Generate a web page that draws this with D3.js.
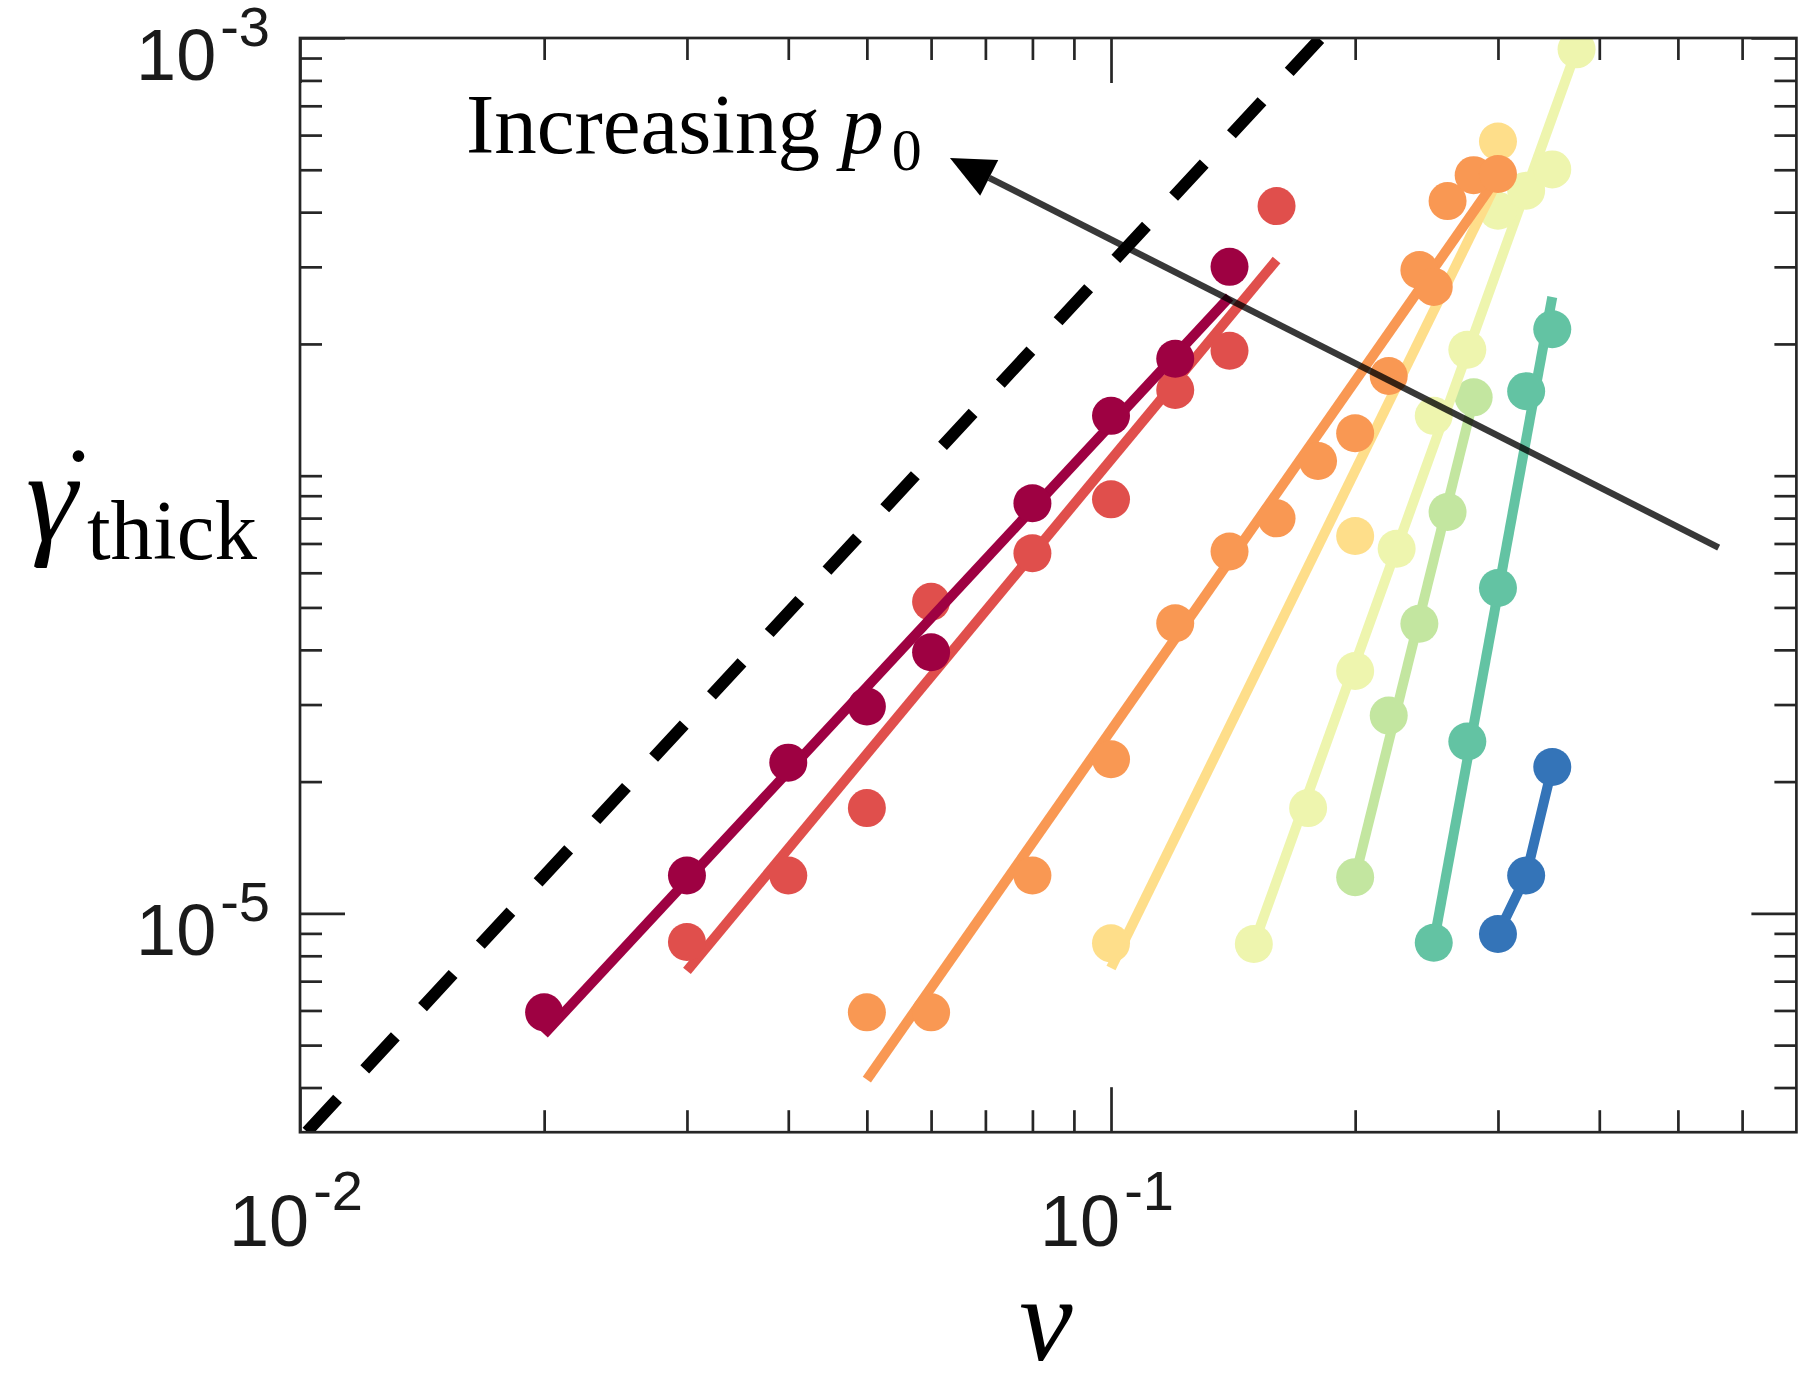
<!DOCTYPE html>
<html>
<head>
<meta charset="utf-8">
<script src="https://cdn.jsdelivr.net/npm/d3@7"></script>
<style>
  body { margin: 0; background: #fff; }
  svg { display: block; }
</style>
</head>
<body>
<div class="shear_plot"></div>
<script>
// colours, one per p0 curve (low p0 = dark red ... high p0 = blue)
const colors = ['#9e0142', '#e04f4c', '#f99853', '#fede8a', '#eef5ae', '#c3e6a0', '#63c3a3', '#3474b8'];

// measured points (v, gamma_dot_thick)
const v1 = [0.02, 0.03, 0.04, 0.05, 0.06, 0.08, 0.1, 0.12, 0.14];
const g1 = [5.94e-6, 1.22e-5, 2.21e-5, 2.97e-5, 3.95e-5, 8.65e-5, 1.37e-4, 1.85e-4, 3.0e-4];
const v2 = [0.03, 0.04, 0.05, 0.06, 0.08, 0.1, 0.12, 0.14, 0.16];
const g2 = [8.6e-6, 1.22e-5, 1.74e-5, 5.15e-5, 6.65e-5, 8.83e-5, 1.57e-4, 1.93e-4, 4.13e-4];
const v3 = [0.05, 0.06, 0.08, 0.1, 0.12, 0.14, 0.16, 0.18, 0.2, 0.22, 0.24, 0.25, 0.26, 0.28, 0.3];
const g3 = [5.94e-6, 5.94e-6, 1.22e-5, 2.25e-5, 4.6e-5, 6.71e-5, 7.99e-5, 1.08e-4, 1.25e-4, 1.69e-4, 2.95e-4, 2.7e-4, 4.24e-4, 4.86e-4, 4.89e-4];
const v4 = [0.1, 0.2, 0.3];
const g4 = [8.54e-6, 7.28e-5, 5.8e-4];
const v5 = [0.15, 0.175, 0.2, 0.225, 0.25, 0.275, 0.3, 0.325, 0.35, 0.375];
const g5 = [8.51e-6, 1.74e-5, 3.58e-5, 6.81e-5, 1.37e-4, 1.94e-4, 4.03e-4, 4.48e-4, 5.01e-4, 9.42e-4];
const v6 = [0.2, 0.22, 0.24, 0.26, 0.28];
const g6 = [1.21e-5, 2.83e-5, 4.59e-5, 8.26e-5, 1.51e-4];
const v7 = [0.25, 0.275, 0.3, 0.325, 0.35];
const g7 = [8.57e-6, 2.47e-5, 5.54e-5, 1.56e-4, 2.16e-4];
const v8 = [0.3, 0.325, 0.35];
const g8 = [8.97e-6, 1.22e-5, 2.16e-5];

// power-law fit lines, [v, gamma] vertices
const fit1 = [[0.02, 5.3e-6], [0.14, 2.56e-4]];
const fit2 = [[0.03, 7.39e-6], [0.16, 3.11e-4]];
const fit3 = [[0.05, 4.17e-6], [0.3, 4.82e-4]];
const fit4 = [[0.1, 7.5e-6], [0.3, 4.74e-4]];
const fit5 = [[0.15, 8.5e-6], [0.375, 9.4e-4]];
const fit6 = [[0.2, 1.21e-5], [0.28, 1.5e-4]];
const fit7 = [[0.25, 8.57e-6], [0.35, 2.56e-4]];
const fit8 = [[0.3, 8.97e-6], [0.325, 1.22e-5], [0.35, 2.16e-5]];

// slope-2 reference line and the "increasing p0" arrow (tail -> tip)
const refLine = [[0.0102, 3.17e-6], [0.1813, 1.0e-3]];
const arrowTail = [0.5614, 6.85e-5];
const arrowTip = [0.0633, 5.32e-4];

// axis ticks
const xMajor = [0.01, 0.1];
const xMajorLabels = ['-2', '-1'];
const xMinor = [0.02, 0.03, 0.04, 0.05, 0.06, 0.07, 0.08, 0.09, 0.2, 0.3, 0.4, 0.5, 0.6];
const yMajor = [1e-5, 1e-3];
const yMajorLabels = ['-5', '-3'];
const yMinor = [4e-6, 5e-6, 6e-6, 7e-6, 8e-6, 9e-6, 2e-5, 3e-5, 4e-5, 5e-5, 6e-5, 7e-5, 8e-5, 9e-5,
                1e-4, 2e-4, 3e-4, 4e-4, 5e-4, 6e-4, 7e-4, 8e-4, 9e-4];

const series = [
  {v: v1, g: g1, fit: fit1}, {v: v2, g: g2, fit: fit2}, {v: v3, g: g3, fit: fit3}, {v: v4, g: g4, fit: fit4},
  {v: v5, g: g5, fit: fit5}, {v: v6, g: g6, fit: fit6}, {v: v7, g: g7, fit: fit7}, {v: v8, g: g8, fit: fit8}
];

const W = 1800, H = 1374;
const pLeft = 300, pRight = 1796.4, pTop = 38, pBottom = 1132.2;

const xScale = d3.scaleLog().domain([0.01, 0.7]).range([pLeft, pRight]);
const yScale = d3.scaleLog().domain([Math.pow(10, -5.5), 1e-3]).range([pBottom, pTop]);

const svg = d3.select('.shear_plot')
              .append('svg')
              .attr('width', W)
              .attr('height', H);

svg.append('clipPath').attr('id', 'plot-clip')
   .append('rect')
   .attr('x', pLeft).attr('y', pTop)
   .attr('width', pRight - pLeft).attr('height', pBottom - pTop);

const plot = svg.append('g').attr('clip-path', 'url(#plot-clip)');
const line = d3.line().x(d => xScale(d[0])).y(d => yScale(d[1]));

// reference slope 2
plot.append('path')
    .attr('d', line(refLine))
    .attr('fill', 'none')
    .attr('stroke', '#000')
    .attr('stroke-width', 12)
    .attr('stroke-dasharray', '45,40');

// draw high p0 first so the low p0 curves sit on top
for (let i = series.length - 1; i >= 0; i--) {
  const s = series[i];
  const g = plot.append('g');
  g.append('path')
   .attr('d', line(s.fit))
   .attr('fill', 'none')
   .attr('stroke', colors[i])
   .attr('stroke-width', 10);
  g.selectAll('circle')
   .data(s.v.map((v, j) => [v, s.g[j]]))
   .enter()
   .append('circle')
   .attr('cx', d => xScale(d[0]))
   .attr('cy', d => yScale(d[1]))
   .attr('r', 19)
   .attr('fill', colors[i]);
}

// axes box with ticks on all four sides
const axisColor = '#262626';
function tickAxis(axisFn, scale, values, size, transform) {
  svg.append('g')
     .attr('transform', transform)
     .call(axisFn(scale).tickValues(values).tickSize(size).tickFormat(''))
     .call(g => g.select('.domain').remove())
     .selectAll('line')
     .attr('stroke', axisColor)
     .attr('stroke-width', 2.7);
}
tickAxis(d3.axisBottom, xScale, xMajor, -45, `translate(0,${pBottom})`);
tickAxis(d3.axisBottom, xScale, xMinor, -22, `translate(0,${pBottom})`);
tickAxis(d3.axisTop, xScale, xMajor, -45, `translate(0,${pTop})`);
tickAxis(d3.axisTop, xScale, xMinor, -22, `translate(0,${pTop})`);
tickAxis(d3.axisLeft, yScale, yMajor, -45, `translate(${pLeft},0)`);
tickAxis(d3.axisLeft, yScale, yMinor, -22, `translate(${pLeft},0)`);
tickAxis(d3.axisRight, yScale, yMajor, -45, `translate(${pRight},0)`);
tickAxis(d3.axisRight, yScale, yMinor, -22, `translate(${pRight},0)`);

svg.append('rect')
   .attr('x', pLeft).attr('y', pTop)
   .attr('width', pRight - pLeft).attr('height', pBottom - pTop)
   .attr('fill', 'none')
   .attr('stroke', axisColor)
   .attr('stroke-width', 2.7);

// tick labels 10^n
const labelFont = '"Liberation Sans", Arial, Helvetica, sans-serif';
xMajor.forEach((v, i) => {
  const t = svg.append('text')
     .attr('x', xScale(v) - 4)
     .attr('y', pBottom + 114)
     .attr('text-anchor', 'middle')
     .attr('font-family', labelFont)
     .attr('font-size', 72)
     .attr('fill', '#1a1a1a');
  t.append('tspan').text('10');
  t.append('tspan').attr('dx', 4).attr('dy', -36).attr('font-size', 56).text(xMajorLabels[i]);
});
yMajor.forEach((v, i) => {
  const t = svg.append('text')
     .attr('x', 270)
     .attr('y', yScale(v) + 42)
     .attr('text-anchor', 'end')
     .attr('font-family', labelFont)
     .attr('font-size', 72)
     .attr('fill', '#1a1a1a');
  t.append('tspan').text('10');
  t.append('tspan').attr('dx', 4).attr('dy', -34).attr('font-size', 56).text(yMajorLabels[i]);
});

// axis labels
const serif = '"Liberation Serif", "Times New Roman", Times, serif';
svg.append('text')
   .attr('x', 1046).attr('y', 1360)
   .attr('text-anchor', 'middle')
   .attr('font-family', serif)
   .attr('font-style', 'italic')
   .attr('font-size', 120)
   .text('v');

const yLab = svg.append('text')
   .attr('font-family', serif)
   .attr('fill', '#000');
yLab.append('tspan')
    .attr('x', 26).attr('y', 540)
    .attr('font-style', 'italic')
    .attr('font-size', 130)
    .text('γ');
yLab.append('tspan')
    .attr('x', 60).attr('y', 523)
    .attr('font-size', 110)
    .text('˙');
yLab.append('tspan')
    .attr('x', 87).attr('y', 559)
    .attr('font-size', 85)
    .text('thick');

// annotation
const ann = svg.append('text')
   .attr('x', 466).attr('y', 153)
   .attr('font-family', serif)
   .attr('font-size', 85)
   .attr('fill', '#000');
ann.append('tspan').text('Increasing ');
ann.append('tspan').attr('font-style', 'italic').text('p');
ann.append('tspan').attr('dx', 8).attr('dy', 17).attr('font-size', 60).text('0');

const tail = [xScale(arrowTail[0]), yScale(arrowTail[1])];
const tip = [xScale(arrowTip[0]), yScale(arrowTip[1])];
const len = Math.hypot(tail[0] - tip[0], tail[1] - tip[1]);
const ux = (tail[0] - tip[0]) / len, uy = (tail[1] - tip[1]) / len;
const headL = 44, headW = 40;
const base = [tip[0] + ux * headL, tip[1] + uy * headL];

svg.append('line')
   .attr('x1', tail[0]).attr('y1', tail[1])
   .attr('x2', base[0]).attr('y2', base[1])
   .attr('stroke', '#000')
   .attr('stroke-opacity', 0.78)
   .attr('stroke-width', 6.5);
svg.append('polygon')
   .attr('points', [
     tip,
     [base[0] - uy * headW / 2, base[1] + ux * headW / 2],
     [base[0] + uy * headW / 2, base[1] - ux * headW / 2]
   ].map(p => p.join(',')).join(' '))
   .attr('fill', '#000');
</script>
</body>
</html>
